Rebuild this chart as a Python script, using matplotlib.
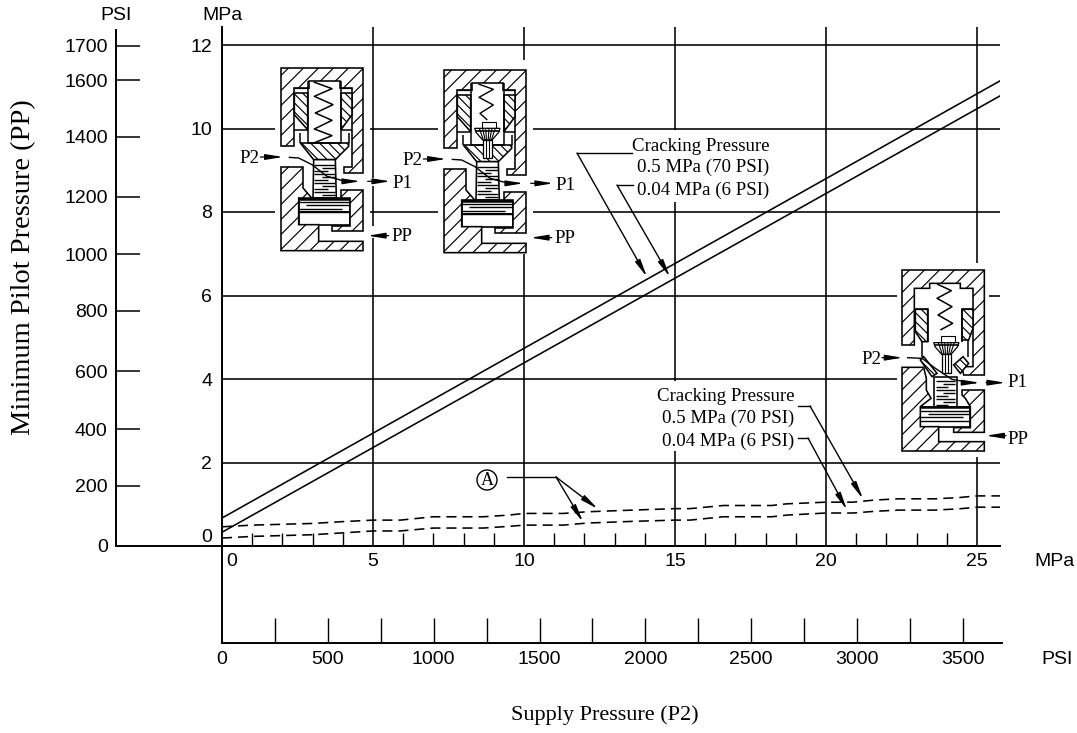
"""Minimum pilot pressure vs supply pressure chart, with the three valve sketches."""

import matplotlib
matplotlib.use("Agg")
import matplotlib.pyplot as plt
from matplotlib.patches import Circle, Polygon, Rectangle

W, H = 1077, 733
SANS = "Liberation Sans"
SERIF = "Liberation Serif"
LW = 1.15
TICK_SIZE = 14

# solid curves: supply pressure (MPa) -> pilot pressure (MPa)
solid_x = [0, 25.76]
solid_upper = [0.67, 11.14]
solid_lower = [0.33, 10.78]

# dashed curves, slightly stepped
dash_x = [0, 1.0, 3.0, 3.9, 5.0, 5.9, 7.0, 8.65, 9.5, 10.0, 11.3, 12.1, 13.6, 15.0, 15.5,
          16.6, 18.2, 18.7, 20.0, 20.9, 21.6, 22.4, 23.6, 24.4, 25.0, 25.76]
dash_upper = [0.46, 0.50, 0.54, 0.58, 0.62, 0.62, 0.70, 0.70, 0.74, 0.78, 0.78, 0.82, 0.86, 0.895,
              0.895, 0.97, 0.97, 1.01, 1.05, 1.05, 1.10, 1.13, 1.13, 1.16, 1.20, 1.20]
dash_lower = [0.19, 0.23, 0.27, 0.31, 0.36, 0.36, 0.43, 0.43, 0.47, 0.50, 0.50, 0.55, 0.59, 0.62,
              0.62, 0.70, 0.70, 0.74, 0.79, 0.79, 0.83, 0.86, 0.86, 0.89, 0.93, 0.93]

mpa_x_major = [0, 5, 10, 15, 20, 25]
mpa_x_labels = ["", "5", "10", "15", "20", "25"]  # the 0 sits right of the axis, see overlay
mpa_x_minor = [1, 2, 3, 4, 6, 7, 8, 9, 11, 12, 13, 14, 16, 17, 18, 19, 21, 22, 23, 24]
mpa_y_ticks = [0, 2, 4, 6, 8, 10, 12]

# the PSI scale on the left is not linear in the source, positions given in MPa
psi_labels = [0, 200, 400, 600, 800, 1000, 1200, 1400, 1600, 1700]
psi_pos_mpa = [0, 1.44, 2.80, 4.19, 5.63, 6.99, 8.36, 9.80, 11.16, 11.98]

psi_x_major = [0, 500, 1000, 1500, 2000, 2500, 3000, 3500]
psi_x_minor = [250, 750, 1250, 1750, 2250, 2750, 3250]


def axes_px(fig, x0, y0, x1, y1):
    return fig.add_axes([x0 / W, 1 - y1 / H, (x1 - x0) / W, (y1 - y0) / H])


def arrow(ov, p0, p1, size=13, lw=0.9):
    ov.annotate("", xy=p1, xytext=p0, zorder=6,
                arrowprops=dict(arrowstyle="-|>,head_length=0.8,head_width=0.13", lw=lw,
                                color="k", shrinkA=0, shrinkB=0, mutation_scale=size))


def leader(ov, pts):
    ov.plot([p[0] for p in pts[:-1]], [p[1] for p in pts[:-1]], color="k", lw=1.0, zorder=6)
    arrow(ov, pts[-2], pts[-1], lw=1.0)


def sketch(ov, ox, oy):
    """Returns a function mapping 3x zoom units (relative to the body corner) to figure pixels."""
    return lambda pts: [(ox + x / 3, oy + y / 3) for x, y in pts]


def shape(ov, to_px, pts, hatch=None, lw=1.15, z=4, step=15.0):
    p = to_px(pts)
    patch = Polygon(p, closed=True, fc="white", ec="k", lw=lw, zorder=z)
    ov.add_patch(patch)
    if not hatch:
        return
    # hatch drawn by hand, mpl's own density can't give this spacing
    xs = [a[0] for a in p]
    sign = 1 if hatch == "/" else -1
    vals = [a + sign * b for a, b in p]
    c = min(vals) + step / 2
    while c < max(vals):
        line, = ov.plot([min(xs) - 5, max(xs) + 5],
                        [sign * (c - (min(xs) - 5)), sign * (c - (max(xs) + 5))],
                        color="k", lw=0.85, zorder=z)
        line.set_clip_path(patch)
        c += step


def polyline(ov, to_px, pts, lw=0.9, z=5):
    p = to_px(pts)
    ov.plot([a[0] for a in p], [a[1] for a in p], color="k", lw=lw, zorder=z, solid_capstyle="butt")


def ladder(ov, to_px, x0, x1, y0, y1, step):
    y = y0
    i = 0
    while y <= y1:
        if i % 3 == 1:
            polyline(ov, to_px, [(x0 + 22, y), (x1, y)], lw=1.0)
        elif i % 3 == 2:
            polyline(ov, to_px, [(x0, y), (x1 - 22, y)], lw=1.0)
        else:
            polyline(ov, to_px, [(x0, y), (x1, y)], lw=1.0)
        y += step
        i += 1


def poppet(ov, to_px, cx, top):
    # fan shaped head plus stem
    shape(ov, to_px, [(cx - 17, top), (cx + 25, top), (cx + 25, top + 20), (cx - 17, top + 20)], lw=0.8, z=5)
    shape(ov, to_px, [(cx - 38, top + 20), (cx + 38, top + 20), (cx + 34, top + 32), (cx + 14, top + 55),
                      (cx - 14, top + 55), (cx - 34, top + 32)], lw=0.9, z=5)
    for dx in (-24, -14, -5, 5, 14, 24):
        polyline(ov, to_px, [(cx + dx, top + 20), (cx + dx * 0.5, top + 55)], lw=0.8)
    polyline(ov, to_px, [(cx - 38, top + 27), (cx + 38, top + 27)], lw=1.2)
    shape(ov, to_px, [(cx - 13, top + 55), (cx + 13, top + 55), (cx + 13, top + 110), (cx - 13, top + 110)], lw=0.9, z=5)
    for dx in (-5, 4):
        polyline(ov, to_px, [(cx + dx, top + 55), (cx + dx, top + 110)], lw=0.8)


def valve_top_type(ov, ox, oy, has_poppet):
    to_px = sketch(ov, ox, oy)
    shape(ov, to_px, [(0, 0), (246, 0), (246, 315), (188, 315), (188, 297), (213, 297), (213, 60), (176, 60),
                      (176, 40), (83, 40), (83, 60), (38, 60), (38, 235), (0, 235)], "/")
    shape(ov, to_px, [(40, 75), (80, 75), (80, 185), (40, 140)], "\\", step=9)
    shape(ov, to_px, [(180, 75), (213, 75), (213, 140), (180, 185)], "\\", step=9)
    polyline(ov, to_px, [(38, 60), (83, 60)])
    polyline(ov, to_px, [(176, 60), (213, 60)])
    polyline(ov, to_px, [(80, 40), (80, 225), (180, 225), (180, 40)], lw=1.1)
    polyline(ov, to_px, [(38, 185), (80, 185)], lw=1.1)
    polyline(ov, to_px, [(180, 185), (213, 185)], lw=1.1)
    polyline(ov, to_px, [(58, 195), (58, 225)], lw=1.1)
    polyline(ov, to_px, [(203, 195), (203, 225)], lw=1.1)
    shape(ov, to_px, [(58, 225), (203, 225), (203, 235), (163, 275), (98, 275)], "\\", step=9)
    if has_poppet:
        polyline(ov, to_px, [(103, 42), (148, 58), (105, 82), (148, 105), (108, 130), (130, 150)], lw=1.0)
        poppet(ov, to_px, 130, 155)
    else:
        polyline(ov, to_px, [(98, 42), (153, 62), (100, 85), (156, 110), (103, 135), (153, 157),
                             (100, 183), (153, 203), (98, 225)], lw=1.1)
    shape(ov, to_px, [(98, 275), (163, 275), (166, 390), (96, 390)])
    ladder(ov, to_px, 100, 163, 290, 385, 9)
    shape(ov, to_px, [(53, 390), (206, 390), (206, 470), (53, 470)], lw=1.2)
    polyline(ov, to_px, [(53, 392), (206, 392)], lw=1.8)
    ladder(ov, to_px, 53, 206, 402, 432, 10)
    polyline(ov, to_px, [(53, 432), (206, 432)], lw=1.4)
    shape(ov, to_px, [(0, 297), (66, 297), (66, 360), (92, 390), (53, 390), (53, 470), (113, 470), (113, 520),
                      (246, 520), (246, 548), (0, 548)], "/")
    shape(ov, to_px, [(180, 365), (246, 365), (246, 490), (153, 490), (153, 475), (206, 475), (206, 390), (180, 390)], "/")

    # flow path and labels
    polyline(ov, to_px, [(23, 268), (53, 270), (93, 290), (138, 325), (193, 340), (215, 340)], lw=1.0)
    p0, p1 = to_px([(200, 340), (238, 340)])
    arrow(ov, p0, p1)
    p0, p1 = to_px([(260, 340), (328, 340)])
    arrow(ov, p0, p1)
    x, y = to_px([(335, 345)])[0]
    ov.text(x, y, "P1", family=SERIF, fontsize=13.6, va="center", zorder=6)
    p0, p1 = to_px([(-62, 267), (6, 267)])
    arrow(ov, p0, p1)
    x, y = to_px([(-66, 272)])[0]
    ov.text(x, y, "P2", family=SERIF, fontsize=13.6, va="center", ha="right", zorder=6)
    p0, p1 = to_px([(323, 503), (260, 503)])
    arrow(ov, p0, p1)
    x, y = to_px([(330, 505)])[0]
    ov.text(x, y, "PP", family=SERIF, fontsize=13.6, va="center", zorder=6)


def valve_right(ov, ox, oy):
    to_px = sketch(ov, ox, oy)
    shape(ov, to_px, [(0, 0), (247, 0), (247, 315), (185, 315), (180, 290), (213, 290), (213, 55), (175, 55),
                      (175, 40), (83, 40), (83, 55), (37, 55), (37, 225), (0, 225)], "/")
    shape(ov, to_px, [(40, 118), (77, 118), (77, 215), (60, 215), (40, 185)], "\\", step=9)
    shape(ov, to_px, [(180, 118), (213, 118), (213, 175), (200, 210), (180, 210)], "\\", step=9)
    polyline(ov, to_px, [(37, 118), (77, 118), (77, 215)], lw=1.1)
    polyline(ov, to_px, [(180, 215), (180, 118), (213, 118)], lw=1.1)
    polyline(ov, to_px, [(105, 42), (148, 62), (105, 85), (150, 110), (108, 135), (152, 160), (115, 180)], lw=1.1)
    poppet(ov, to_px, 133, 198)
    shape(ov, to_px, [(55, 270), (65, 260), (105, 310), (90, 320)], "\\", step=9)
    shape(ov, to_px, [(155, 285), (183, 260), (200, 280), (175, 310)], "\\", step=9)
    polyline(ov, to_px, [(60, 215), (60, 262)], lw=1.1)
    polyline(ov, to_px, [(198, 210), (198, 262)], lw=1.1)
    shape(ov, to_px, [(97, 320), (165, 320), (165, 410), (97, 410)])
    ladder(ov, to_px, 102, 160, 332, 405, 9)
    shape(ov, to_px, [(55, 410), (205, 410), (205, 470), (55, 470)], lw=1.2)
    polyline(ov, to_px, [(55, 412), (205, 412)], lw=1.8)
    ladder(ov, to_px, 55, 205, 422, 452, 10)
    shape(ov, to_px, [(0, 292), (65, 292), (73, 325), (73, 360), (87, 385), (55, 410), (55, 470), (110, 470),
                      (110, 515), (247, 515), (247, 543), (0, 543)], "/")
    shape(ov, to_px, [(180, 360), (247, 360), (247, 487), (155, 487), (155, 473), (205, 473), (205, 410), (190, 385), (180, 375)], "/")

    polyline(ov, to_px, [(15, 263), (60, 265), (100, 295), (150, 328), (205, 338), (222, 338)], lw=1.0)
    p0, p1 = to_px([(205, 338), (233, 338)])
    arrow(ov, p0, p1)
    p0, p1 = to_px([(252, 338), (310, 338)])
    arrow(ov, p0, p1)
    x, y = to_px([(317, 338)])[0]
    ov.text(x, y, "P1", family=SERIF, fontsize=13.6, va="center", zorder=6)
    p0, p1 = to_px([(-60, 263), (2, 263)])
    arrow(ov, p0, p1)
    x, y = to_px([(-62, 268)])[0]
    ov.text(x, y, "P2", family=SERIF, fontsize=13.6, va="center", ha="right", zorder=6)
    p0, p1 = to_px([(312, 497), (252, 497)])
    arrow(ov, p0, p1)
    x, y = to_px([(315, 510)])[0]
    ov.text(x, y, "PP", family=SERIF, fontsize=13.6, va="center", zorder=6)


def main():
    plt.rcParams["font.family"] = SANS
    fig = plt.figure(figsize=(W / 100, H / 100), dpi=100)

    # main grid
    ax = axes_px(fig, 222, 27, 1000, 546)
    ax.set_xlim(0, 778 / 30.2)
    ax.set_ylim(0, 519 / 41.75)
    ax.set_xticks(mpa_x_major, mpa_x_labels)
    ax.set_xticks(mpa_x_minor, minor=True)
    ax.set_yticks(mpa_y_ticks)
    ax.grid(True, which="major", color="k", lw=LW)
    ax.tick_params(axis="x", which="major", length=0, labelsize=TICK_SIZE, pad=5)
    ax.tick_params(axis="x", which="minor", direction="in", length=9.5, width=1.0)
    ax.tick_params(axis="y", length=0, labelsize=TICK_SIZE, pad=7)
    for s in ("top", "right"):
        ax.spines[s].set_visible(False)
    ax.spines["left"].set_linewidth(1.4)
    ax.spines["bottom"].set_linewidth(1.4)
    ax.set_axisbelow(True)
    ax.get_yticklabels()[0].set_va("bottom")

    ax.plot(solid_x, solid_upper, color="k", lw=LW, zorder=3)
    ax.plot(solid_x, solid_lower, color="k", lw=LW, zorder=3)
    ax.plot(dash_x, dash_upper, color="k", lw=1.15, dashes=(6.3, 3.75), zorder=3)
    ax.plot(dash_x, dash_lower, color="k", lw=1.15, dashes=(6.3, 3.75), zorder=3)

    # left PSI axis
    ax_psi = axes_px(fig, 116, 30, 222, 546)
    ax_psi.patch.set_alpha(0)
    ax_psi.set_ylim(0, 516 / 41.75)
    ax_psi.set_xticks([])
    ax_psi.set_yticks(psi_pos_mpa, [str(v) for v in psi_labels])
    ax_psi.tick_params(axis="y", direction="in", length=17, width=1.1, labelsize=TICK_SIZE, pad=6)
    ax_psi.yaxis.get_major_ticks()[0].tick1line.set_visible(False)
    for s in ("top", "right"):
        ax_psi.spines[s].set_visible(False)
    ax_psi.spines["left"].set_linewidth(1.4)
    ax_psi.spines["bottom"].set_linewidth(1.4)

    # bottom PSI axis
    ax_bot = axes_px(fig, 222, 546, 1002, 643)
    ax_bot.patch.set_alpha(0)
    ax_bot.set_xlim(0, 780 / 0.2117)
    ax_bot.set_ylim(0, 1)
    ax_bot.set_yticks([])
    ax_bot.set_xticks(psi_x_major)
    ax_bot.set_xticks(psi_x_minor, minor=True)
    ax_bot.tick_params(axis="x", which="both", direction="in", length=18, width=1.0, labelsize=TICK_SIZE, pad=6)
    ax_bot.xaxis.get_major_ticks()[0].tick1line.set_visible(False)
    for s in ("top", "right"):
        ax_bot.spines[s].set_visible(False)
    ax_bot.spines["left"].set_linewidth(1.4)
    ax_bot.spines["bottom"].set_linewidth(1.4)

    # overlay in figure pixels for annotations and sketches
    ov = fig.add_axes([0, 0, 1, 1], zorder=10)
    ov.set_xlim(0, W)
    ov.set_ylim(H, 0)
    ov.axis("off")
    ov.patch.set_alpha(0)

    # white boxes that interrupt the grid
    for x, y, w, h in [(275, 60, 95, 194), (438, 60, 95, 194), (897, 263, 92, 194), (989, 340, 20, 117),
                       (365, 178, 12, 8), (365, 226, 12, 12), (625, 130, 155, 72), (655, 381, 145, 70)]:
        ov.add_patch(Rectangle((x, y), w, h, fc="white", ec="none", zorder=1))

    # axis captions
    for x, y, s in [(116, 15, "PSI"), (222, 15, "MPa"), (232, 561, "0"), (1055, 561, "MPa"), (1057, 660, "PSI")]:
        ov.text(x, y, s, fontsize=TICK_SIZE, ha="center", va="center", zorder=6)
    ov.text(24, 267, "Minimum Pilot Pressure (PP)", family=SERIF, fontsize=20.5, rotation=90,
            ha="center", va="center", zorder=6)
    ov.text(605, 715, "Supply Pressure (P2)", family=SERIF, fontsize=16, ha="center", va="center", zorder=6)

    # cracking pressure notes
    for x, y, s in [(632, 151, "Cracking Pressure"), (637, 172, "0.5 MPa (70 PSI)"), (637, 195, "0.04 MPa (6 PSI)"),
                    (657, 401, "Cracking Pressure"), (662, 423, "0.5 MPa (70 PSI)"), (662, 446, "0.04 MPa (6 PSI)")]:
        ov.text(x, y, s, family=SERIF, fontsize=13.6, va="baseline", zorder=6)
    leader(ov, [(632, 153), (577, 153), (647, 277)])
    leader(ov, [(633, 185), (617, 185), (670, 277)])
    leader(ov, [(798, 406), (810, 406), (863, 499)])
    leader(ov, [(798, 438), (808, 438), (847, 510)])

    # marker A
    ov.add_patch(Circle((487, 480), 10, fc="white", ec="k", lw=1.0, zorder=6))
    ov.text(487, 480.5, "A", family=SERIF, fontsize=13, ha="center", va="center", zorder=7)
    ov.plot([507, 556], [477, 477], color="k", lw=1.0, zorder=6)
    arrow(ov, (556, 477), (598, 509), lw=1.0)
    arrow(ov, (556, 477), (583, 522), lw=1.0)

    valve_top_type(ov, 281, 68, False)
    valve_top_type(ov, 444, 70, True)
    valve_right(ov, 902, 270)

    fig.savefig("out.png", dpi=100)
    plt.close(fig)


if __name__ == "__main__":
    main()
